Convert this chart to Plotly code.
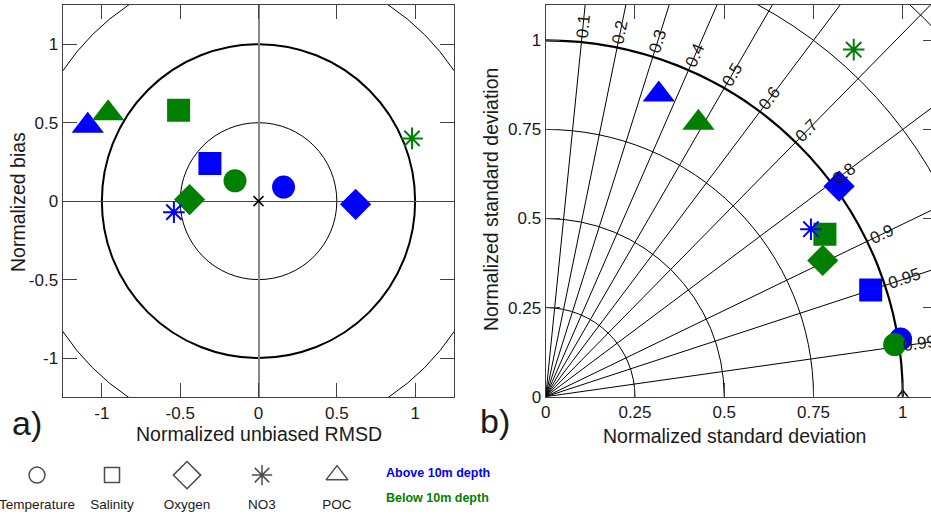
import numpy as np
import plotly.graph_objects as go

# ---------------- data ----------------
variables = ["Temperature", "Salinity", "Oxygen", "NO3", "POC"]
depth_labels = ["Above 10m depth", "Below 10m depth"]

# a) target diagram (normalized unbiased RMSD, normalized bias)
rmsd_above = [0.16, -0.31, 0.62, -0.54, -1.09]
bias_above = [0.09, 0.24, -0.02, -0.07, 0.48]
rmsd_below = [-0.15, -0.51, -0.44, 0.98, -0.96]
bias_below = [0.13, 0.58, 0.01, 0.40, 0.56]

# b) Taylor diagram (normalized standard deviation, correlation)
std_above = [1.007, 0.958, 1.012, 0.879, 0.905]
corr_above = [0.987, 0.950, 0.812, 0.845, 0.350]
std_below = [0.988, 0.905, 0.865, 1.301, 0.880]
corr_below = [0.989, 0.864, 0.897, 0.663, 0.486]

target_circles = [0.5, 1.0, 1.5]
std_arcs = [0.25, 0.5, 0.75, 1.0, 1.25, 1.5]
corr_values = [0.1, 0.2, 0.3, 0.4, 0.5, 0.6, 0.7, 0.8, 0.9, 0.95, 0.99]
corr_labels = ["0.1", "0.2", "0.3", "0.4", "0.5", "0.6", "0.7", "0.8", "0.9", "0.95", "0.99"]

a_ticks = [-1, -0.5, 0, 0.5, 1]
a_ticktext = ["-1", "-0.5", "0", "0.5", "1"]
b_ticks = [0, 0.25, 0.5, 0.75, 1]
b_ticktext = ["0", "0.25", "0.5", "0.75", "1"]

# ---------------- styles ----------------
FONT = "Liberation Sans, Arial, Helvetica, sans-serif"
TXT = "#1a1a1a"
depth_colors = ["#0000ff", "#008000"]
filled_symbols = ["circle", "square", "diamond", "asterisk-open", "triangle-up"]
open_symbols = ["circle-open", "square-open", "diamond-open", "asterisk-open", "triangle-up-open"]
marker_sizes = [23, 23, 24, 18, 28]
legend_sizes = [16, 15, 21, 17, 19]

fig = go.Figure()

# ---- panel a ----
target_sets = [(rmsd_above, bias_above), (rmsd_below, bias_below)]
for i, var in enumerate(variables):
    for d, (rm, bi) in enumerate(target_sets):
        fig.add_trace(go.Scatter(
            x=[rm[i]], y=[bi[i]], mode="markers", xaxis="x", yaxis="y",
            marker=dict(symbol=filled_symbols[i], size=marker_sizes[i], color=depth_colors[d],
                        line=dict(width=2 if "asterisk" in filled_symbols[i] else 0, color=depth_colors[d])),
            name=f"{var} {depth_labels[d]}", hoverinfo="name"))
# centre reference
fig.add_trace(go.Scatter(x=[0], y=[0], mode="markers", xaxis="x", yaxis="y",
                         marker=dict(symbol="x-thin-open", size=10, color="black",
                                     line=dict(width=1.5, color="black"))))

# ---- panel b ----
taylor_sets = [(std_above, corr_above), (std_below, corr_below)]
for i, var in enumerate(variables):
    for d, (sd, cr) in enumerate(taylor_sets):
        s = np.array([sd[i]]); c = np.array([cr[i]])
        fig.add_trace(go.Scatter(
            x=s * c, y=s * np.sqrt(1 - c ** 2), mode="markers", xaxis="x2", yaxis="y2",
            marker=dict(symbol=filled_symbols[i], size=marker_sizes[i], color=depth_colors[d],
                        line=dict(width=2 if "asterisk" in filled_symbols[i] else 0, color=depth_colors[d])),
            name=f"{var} {depth_labels[d]}", hoverinfo="name"))
# reference point
fig.add_trace(go.Scatter(x=[1], y=[0], mode="markers", xaxis="x2", yaxis="y2", cliponaxis=True,
                         marker=dict(symbol="triangle-up-open", size=13, color="black",
                                     line=dict(width=1.5, color="black"))))
# right-side ticks holder
fig.add_trace(go.Scatter(x=[None], y=[None], xaxis="x2", yaxis="y4", showlegend=False))

# ---- legend (bottom) ----
idx = list(range(len(variables)))
fig.add_trace(go.Scatter(x=idx, y=[0.54] * len(idx), mode="markers", xaxis="x3", yaxis="y3", cliponaxis=False,
                         marker=dict(symbol=open_symbols, size=legend_sizes, color="black",
                                     line=dict(width=1.5, color="black"))))
fig.add_trace(go.Scatter(x=idx, y=[0.15] * len(idx), mode="text", xaxis="x3", yaxis="y3", cliponaxis=False,
                         text=variables, textfont=dict(family=FONT, size=13.5, color=TXT)))

shapes = []
for r in target_circles:
    shapes.append(dict(type="circle", xref="x", yref="y", x0=-r, x1=r, y0=-r, y1=r, layer="below",
                       line=dict(color="black", width=2 if r == 1.0 else 1)))
for r in std_arcs:
    shapes.append(dict(type="circle", xref="x2", yref="y2", x0=-r, x1=r, y0=-r, y1=r, layer="below",
                       line=dict(color="black", width=2.2 if r == 1.0 else 1)))
for c in corr_values:
    th = np.arccos(c)
    shapes.append(dict(type="line", xref="x2", yref="y2", x0=0, y0=0, x1=1.7 * np.cos(th), y1=1.7 * np.sin(th),
                       layer="below", line=dict(color="black", width=1)))

annotations = []
LBL = 17
for c, lab in zip(corr_values, corr_labels):
    th = np.arccos(c)
    wpx = (0.556 * sum(ch.isdigit() for ch in lab) + 0.278) * LBL
    rc = 1.012 + 0.5 * wpx / 357.0
    annotations.append(dict(x=rc * np.cos(th), y=rc * np.sin(th), xref="x2", yref="y2", text=lab,
                            showarrow=False, textangle=-np.degrees(th), xanchor="center", yanchor="middle",
                            font=dict(family=FONT, size=LBL, color=TXT)))

W, H = 931, 517
def px(x):
    return x / W
def py(y):
    return (H - y) / H

annotations += [
    dict(x=px(258.5), y=py(434), text="Normalized unbiased RMSD", font=dict(size=19.5)),
    dict(x=px(18), y=py(202), text="Normalized bias", textangle=-90, font=dict(size=19.5)),
    dict(x=px(734), y=py(436), text="Normalized standard deviation", font=dict(size=19.5)),
    dict(x=px(491), y=py(200), text="Normalized standard deviation", textangle=-90, font=dict(size=19.5)),
    dict(x=px(27), y=py(423), text="a)", font=dict(size=34)),
    dict(x=px(495), y=py(421), text="b)", font=dict(size=34)),
]
for a in annotations[-6:]:
    a.update(xref="paper", yref="paper", showarrow=False, xanchor="center", yanchor="middle")
    a["font"].update(family=FONT, color=TXT)

annotations += [
    dict(x=px(384), y=py(473), text="<b>Above 10m depth</b>", xref="paper", yref="paper", showarrow=False,
         xanchor="left", yanchor="middle", font=dict(family=FONT, size=12.5, color=depth_colors[0])),
    dict(x=px(384), y=py(498), text="<b>Below 10m depth</b>", xref="paper", yref="paper", showarrow=False,
         xanchor="left", yanchor="middle", font=dict(family=FONT, size=12.5, color=depth_colors[1])),
]

FRAME = "#404040"
common = dict(ticks="inside", ticklen=14, tickwidth=1.2, tickcolor=FRAME, showline=True, linecolor=FRAME,
              linewidth=1.4, showgrid=False, tickfont=dict(family=FONT, size=17, color=TXT),
              fixedrange=True, automargin=False, ticklabelstandoff=0)

fig.update_layout(
    template="none",
    width=W, height=H, autosize=False, margin=dict(l=0, r=0, t=0, b=0, pad=0), showlegend=False,
    plot_bgcolor="white", paper_bgcolor="white",
    xaxis=dict(domain=[62.7 / W, 454.3 / W], range=[-1.25, 1.25], anchor="y", tickvals=a_ticks,
               ticktext=a_ticktext, mirror="ticks", zeroline=True, zerolinecolor="#888", zerolinewidth=2,
               **common),
    yaxis=dict(domain=[py(397.3), py(5)], range=[-1.25, 1.25], anchor="x", tickvals=a_ticks,
               ticktext=a_ticktext, mirror="ticks", zeroline=True, zerolinecolor="#444", zerolinewidth=1.2,
               **common),
    xaxis2=dict(domain=[545.7 / W, 1.0], range=[0, 1.079], anchor="y2", tickvals=b_ticks,
                ticktext=b_ticktext, mirror="ticks", zeroline=False, **common),
    yaxis2=dict(domain=[py(396.7), py(4.7)], range=[0, 1.1], anchor="x2", tickvals=b_ticks,
                ticktext=b_ticktext, mirror=False, zeroline=False, **common),
    yaxis4=dict(overlaying="y2", anchor="x2", side="right", range=[0, 1.1], tickvals=b_ticks[1:],
                ticks="inside", ticklen=8, tickwidth=1.2, tickcolor=FRAME, showticklabels=False,
                showline=False, showgrid=False, zeroline=False, automargin=False, fixedrange=True),
    xaxis3=dict(domain=[0, 1], range=[-37 / 75, (W - 37) / 75], anchor="y3", visible=False,
                fixedrange=True, automargin=False),
    yaxis3=dict(domain=[0, 0.15], range=[0, 1], anchor="x3", visible=False, fixedrange=True,
                automargin=False),
    shapes=shapes, annotations=annotations,
)

post = "document.body.style.margin='0';document.body.style.overflow='hidden';"
fig.write_html("out.html", config={"displayModeBar": False, "responsive": False}, post_script=post)
